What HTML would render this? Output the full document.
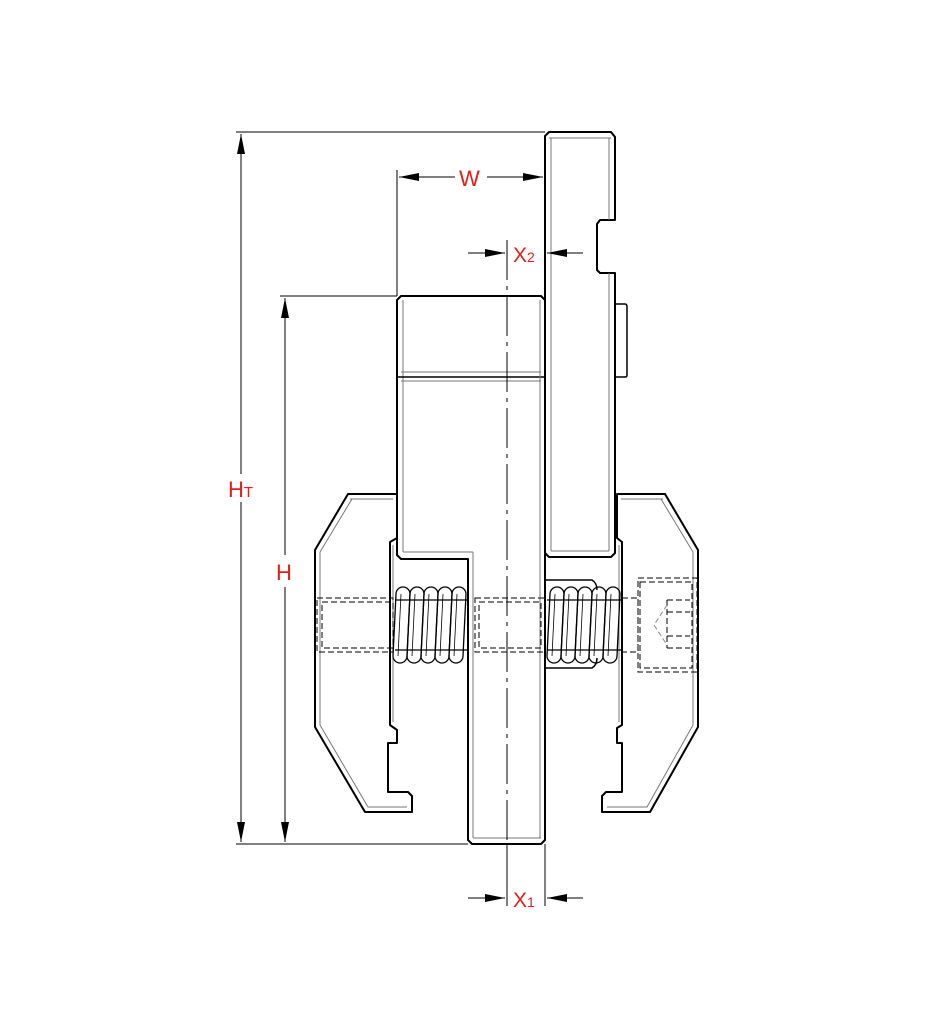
<!DOCTYPE html>
<html><head><meta charset="utf-8"><style>
html,body{margin:0;padding:0;background:#fff}
svg{display:block}
text{font-family:"Liberation Sans",sans-serif;fill:#e0201c}
</style></head><body>
<svg width="939" height="1029" viewBox="0 0 939 1029" xmlns="http://www.w3.org/2000/svg">
<defs>
<marker id="arv" viewBox="0 0 20 8" markerWidth="20" markerHeight="8" refX="20" refY="4" orient="auto-start-reverse" markerUnits="userSpaceOnUse">
<path d="M0,0 L20,4 L0,8 Z" fill="#000"/></marker>
</defs>
<g fill="#fff" stroke="#000" stroke-width="2" stroke-linejoin="round">
<!-- right plate -->
<path d="M549,132 L611,132 L615,137 L615,220 L600,220 L597,224 L597,270 L600,273 L615,273 L615,553 L611,557 L549,557 L545,553 L545,136 Z"/>
<path d="M616,304 L625,304 Q627,304 627,307 L627,375 Q627,377 625,377 L616,377" stroke-width="1.5"/>
<!-- left clamp -->
<path d="M348,494 L397,494 L397,538 L390,542 L390,725 L397,730 L397,743 L388,743 L388,792 L408,792 L412,796 L412,812 L365,812 L315,727 L315,550 Z"/>
<!-- right clamp -->
<path d="M617,494 L665,494 L698,550 L698,727 L650,812 L602,812 L602,796 L606,792 L622,792 L622,743 L617,743 L617,728 L622,725 L622,542 L617,538 Z"/>
<!-- center block + post -->
<path d="M401,296 L541,296 L545,300 L545,840 L541,844 L472,844 L468,840 L468,559 L401,559 L397,555 L397,300 Z"/>
</g>
<g fill="none" stroke="#777" stroke-width="1">
<line x1="549" y1="138" x2="611" y2="138"/>
<line x1="551" y1="138" x2="551" y2="551"/>
<line x1="609" y1="138" x2="609" y2="220"/>
<line x1="609" y1="273" x2="609" y2="551"/>
<line x1="551" y1="551" x2="609" y2="551"/>
<line x1="403" y1="300" x2="403" y2="552"/>
<line x1="401" y1="372" x2="541" y2="372"/>
<line x1="397" y1="377" x2="545" y2="377" stroke="#000" stroke-width="1.5"/>
<line x1="401" y1="381" x2="541" y2="381"/>
<line x1="403" y1="552" x2="473" y2="552"/>
<line x1="473" y1="552" x2="473" y2="838"/>
<line x1="473" y1="838" x2="541" y2="838"/>
<line x1="540" y1="300" x2="540" y2="838"/>
<path d="M350,499 L393,499 M320,552 L352,499 M320,552 L320,725 L368,807 L407,807 M393,545 L393,722"/>
<path d="M663,499 L621,499 M693,552 L661,499 M693,552 L693,725 L647,807 L607,807 M619,545 L619,722"/>
</g>
<!-- bolt dashed -->
<g fill="none" stroke="#000" stroke-width="1" stroke-dasharray="6,3">
<rect x="317" y="598" width="76" height="54"/>
<rect x="322" y="602" width="71" height="46"/>
<rect x="475" y="598" width="70" height="54"/>
<rect x="479" y="602" width="62" height="46"/>
<rect x="622" y="598" width="16" height="54"/>
<rect x="638" y="578" width="59" height="94"/>
<rect x="640" y="582" width="52" height="86"/>
<path d="M667,600 L690,600 M667,612 L690,612 M667,636 L690,636 M667,648 L690,648 M667,600 L667,648"/>
</g>
<path d="M667,605 L654,625 L667,645" fill="none" stroke="#888" stroke-width="1" stroke-dasharray="5,3"/>
<!-- sleeve -->
<path d="M545,580 L592,580 Q597,583 597,590 M545,668 L592,668 Q597,665 597,658" fill="none" stroke="#000" stroke-width="1.5"/>
<!-- springs -->
<g fill="#fff" stroke="#000" stroke-width="1.3">
<line x1="395" y1="600" x2="467" y2="600"/><line x1="395" y1="650" x2="467" y2="650"/>
<path d="M396,594 A7,7 0 0 1 410,594 L407,656 A7,7 0 0 1 393,656 Z" fill="none"/>
<path d="M410,594 A7,7 0 0 1 424,594 L421,656 A7,7 0 0 1 407,656 Z" fill="none"/>
<path d="M424,594 A7,7 0 0 1 438,594 L435,656 A7,7 0 0 1 421,656 Z" fill="none"/>
<path d="M438,594 A7,7 0 0 1 452,594 L449,656 A7,7 0 0 1 435,656 Z" fill="none"/>
<path d="M452,594 A7,7 0 0 1 466,594 L463,656 A7,7 0 0 1 449,656 Z" fill="none"/>
<path d="M401,594 L398,656 M415,594 L412,656 M429,594 L426,656 M443,594 L440,656 M457,594 L454,656" stroke-width="0.8" fill="none"/>
<line x1="547" y1="600" x2="622" y2="600"/><line x1="547" y1="650" x2="622" y2="650"/>
<path d="M550,594 A7,7 0 0 1 564,594 L561,656 A7,7 0 0 1 547,656 Z" fill="none"/>
<path d="M564,594 A7,7 0 0 1 578,594 L575,656 A7,7 0 0 1 561,656 Z" fill="none"/>
<path d="M578,594 A7,7 0 0 1 592,594 L589,656 A7,7 0 0 1 575,656 Z" fill="none"/>
<path d="M592,594 A7,7 0 0 1 606,594 L603,656 A7,7 0 0 1 589,656 Z" fill="none"/>
<path d="M606,594 A7,7 0 0 1 620,594 L617,656 A7,7 0 0 1 603,656 Z" fill="none"/>
<path d="M555,594 L552,656 M569,594 L566,656 M583,594 L580,656 M597,594 L594,656 M611,594 L608,656" stroke-width="0.8" fill="none"/>
</g>
<!-- centerline -->
<line x1="507" y1="240" x2="507" y2="844" stroke="#000" stroke-width="1" stroke-dasharray="40,6,4,6"/>
<g fill="none" stroke="#000" stroke-width="1">
<line x1="236" y1="132" x2="545" y2="132"/>
<line x1="236" y1="844" x2="468" y2="844"/>
<line x1="280" y1="296" x2="397" y2="296"/>
<line x1="397" y1="170" x2="397" y2="296"/>
<line x1="545" y1="844" x2="545" y2="906"/>
<line x1="507" y1="844" x2="507" y2="906"/>
<line x1="241" y1="134" x2="241" y2="474" marker-start="url(#arv)"/>
<line x1="241" y1="502" x2="241" y2="842" marker-end="url(#arv)"/>
<line x1="285" y1="298" x2="285" y2="555" marker-start="url(#arv)"/>
<line x1="285" y1="587" x2="285" y2="842" marker-end="url(#arv)"/>
<line x1="399" y1="177" x2="455" y2="177" marker-start="url(#arv)"/>
<line x1="487" y1="177" x2="543" y2="177" marker-end="url(#arv)"/>
<line x1="468" y1="253" x2="505" y2="253" marker-end="url(#arv)"/>
<line x1="583" y1="253" x2="547" y2="253" marker-end="url(#arv)"/>
<line x1="468" y1="898" x2="505" y2="898" marker-end="url(#arv)"/>
<line x1="583" y1="898" x2="547" y2="898" marker-end="url(#arv)"/>
</g>
<text x="228" y="497" font-size="22">H<tspan font-size="15">T</tspan></text>
<text x="276" y="580" font-size="22">H</text>
<text x="459" y="186" font-size="22">W</text>
<text x="513" y="262" font-size="21">X<tspan font-size="14">2</tspan></text>
<text x="513" y="907" font-size="21">X<tspan font-size="14">1</tspan></text>
</svg>
</body></html>
